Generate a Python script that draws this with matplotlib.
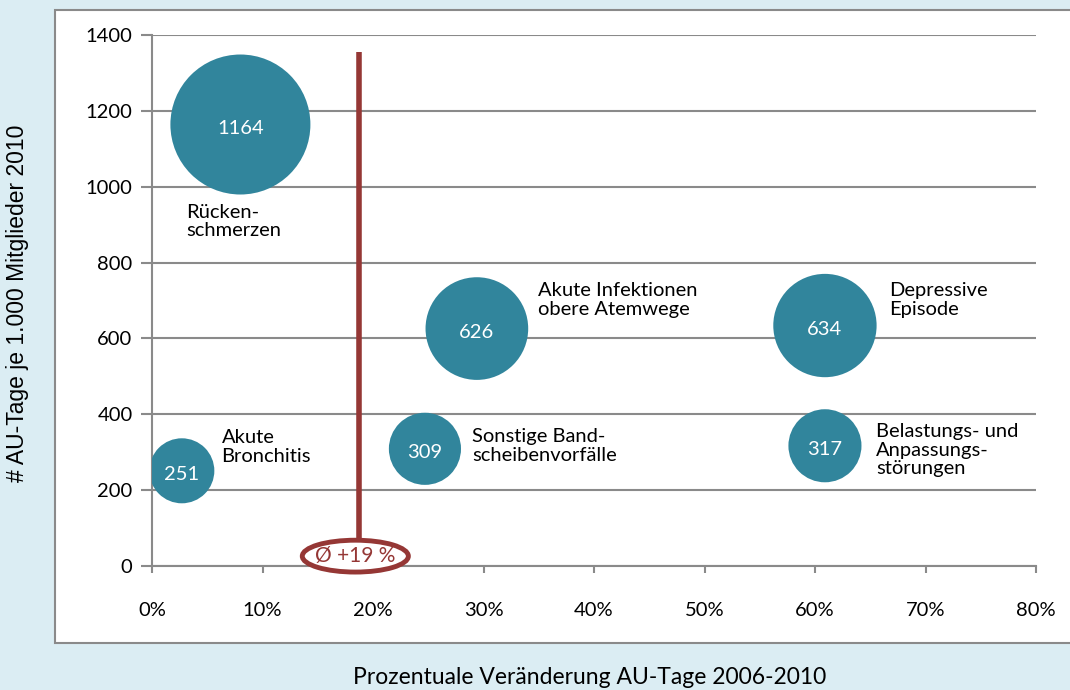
import matplotlib
matplotlib.use("Agg")
import matplotlib.pyplot as plt
from matplotlib.patches import Ellipse, Rectangle

# data
change_pct = [8.0, 2.7, 24.7, 29.4, 60.9, 60.9]
au_days = [1164, 251, 309, 626, 634, 317]
names = ["Rücken-\nschmerzen", "Akute\nBronchitis", "Sonstige Band-\nscheibenvorfälle",
         "Akute Infektionen\nobere Atemwege", "Depressive\nEpisode",
         "Belastungs- und\nAnpassungs-\nstörungen"]
# label anchor (upper left) per bubble, in data units
label_x = [3.1, 6.3, 29.0, 34.9, 66.7, 65.5]
label_y = [955, 360, 364, 748, 748, 377]

avg_change = 18.7
avg_label = "Ø +19 %"

x_ticks = [0, 10, 20, 30, 40, 50, 60, 70, 80]
y_ticks = [0, 200, 400, 600, 800, 1000, 1200, 1400]

teal = "#31859c"
darkred = "#953735"
grey = "#8a8a8a"
bg = "#dbedf3"

plt.rcParams['font.family'] = ['Lato', 'DejaVu Sans']

fig = plt.figure(figsize=(10.7, 6.9), dpi=100)
fig.patch.set_facecolor(bg)

# white inner panel
fig.patches.append(Rectangle((55 / 1070, 1 - 643 / 690), 1.1, (643 - 10) / 690,
                             transform=fig.transFigure, facecolor="white",
                             edgecolor=grey, linewidth=1.5, zorder=-1))

ax = fig.add_axes([152 / 1070, (690 - 566) / 690, (1036 - 152) / 1070, (566 - 35) / 690])
ax.set_zorder(1)
ax.set_facecolor("white")
ax.set_xlim(0, 80)
ax.set_ylim(0, 1400)

# bubble area proportional to value (1164 -> radius ~70 px)
k = (2 * 70 * 0.72) ** 2 / 1164
ax.scatter(change_pct, au_days, s=[v * k for v in au_days], color=teal,
           edgecolors="none", zorder=3)
for x, y in zip(change_pct, au_days):
    ax.text(x, y - 10, str(y), color="white", fontsize=14.5, ha="center",
            va="center", zorder=4)
for lx, ly, n in zip(label_x, label_y, names):
    ax.text(lx, ly, n, fontsize=14.5, ha="left", va="top", linespacing=1.12,
            color="black", zorder=4)

# average line with ellipse label
ax.plot([avg_change, avg_change], [60, 1355], color=darkred, linewidth=4,
        solid_capstyle="butt", zorder=5, clip_on=False)
ax.add_patch(Ellipse((18.4, 26), 9.6, 84, facecolor="white", edgecolor=darkred,
                     linewidth=3.5, zorder=6, clip_on=False))
ax.text(18.4, 27, avg_label, color=darkred, fontsize=15, ha="center",
        va="center", zorder=7, clip_on=False)

ax.set_xticks(x_ticks)
ax.set_xticklabels([f"{t}%" for t in x_ticks])
ax.set_yticks(y_ticks)
ax.grid(axis="y", color=grey, linewidth=1.5, zorder=1)
ax.set_axisbelow(True)
for side in ["top", "right"]:
    ax.spines[side].set_visible(False)
for side in ["left", "bottom"]:
    ax.spines[side].set_color(grey)
    ax.spines[side].set_linewidth(1.5)
ax.tick_params(axis="y", length=8, width=1.5, color=grey, labelsize=14.5, pad=6)
ax.tick_params(axis="x", length=5, width=1.5, color=grey, labelsize=14.5, pad=21)

fig.text(18 / 1070, 1 - 303 / 690, "# AU-Tage je 1.000 Mitglieder 2010",
         rotation=90, ha="center", va="center", fontsize=16.5,
         family=["Liberation Sans", "DejaVu Sans"])
fig.text(590 / 1070, 1 - 677 / 690, "Prozentuale Veränderung AU-Tage 2006-2010",
         ha="center", va="center", fontsize=16.5)

fig.savefig("out.png", dpi=100, facecolor=bg)
